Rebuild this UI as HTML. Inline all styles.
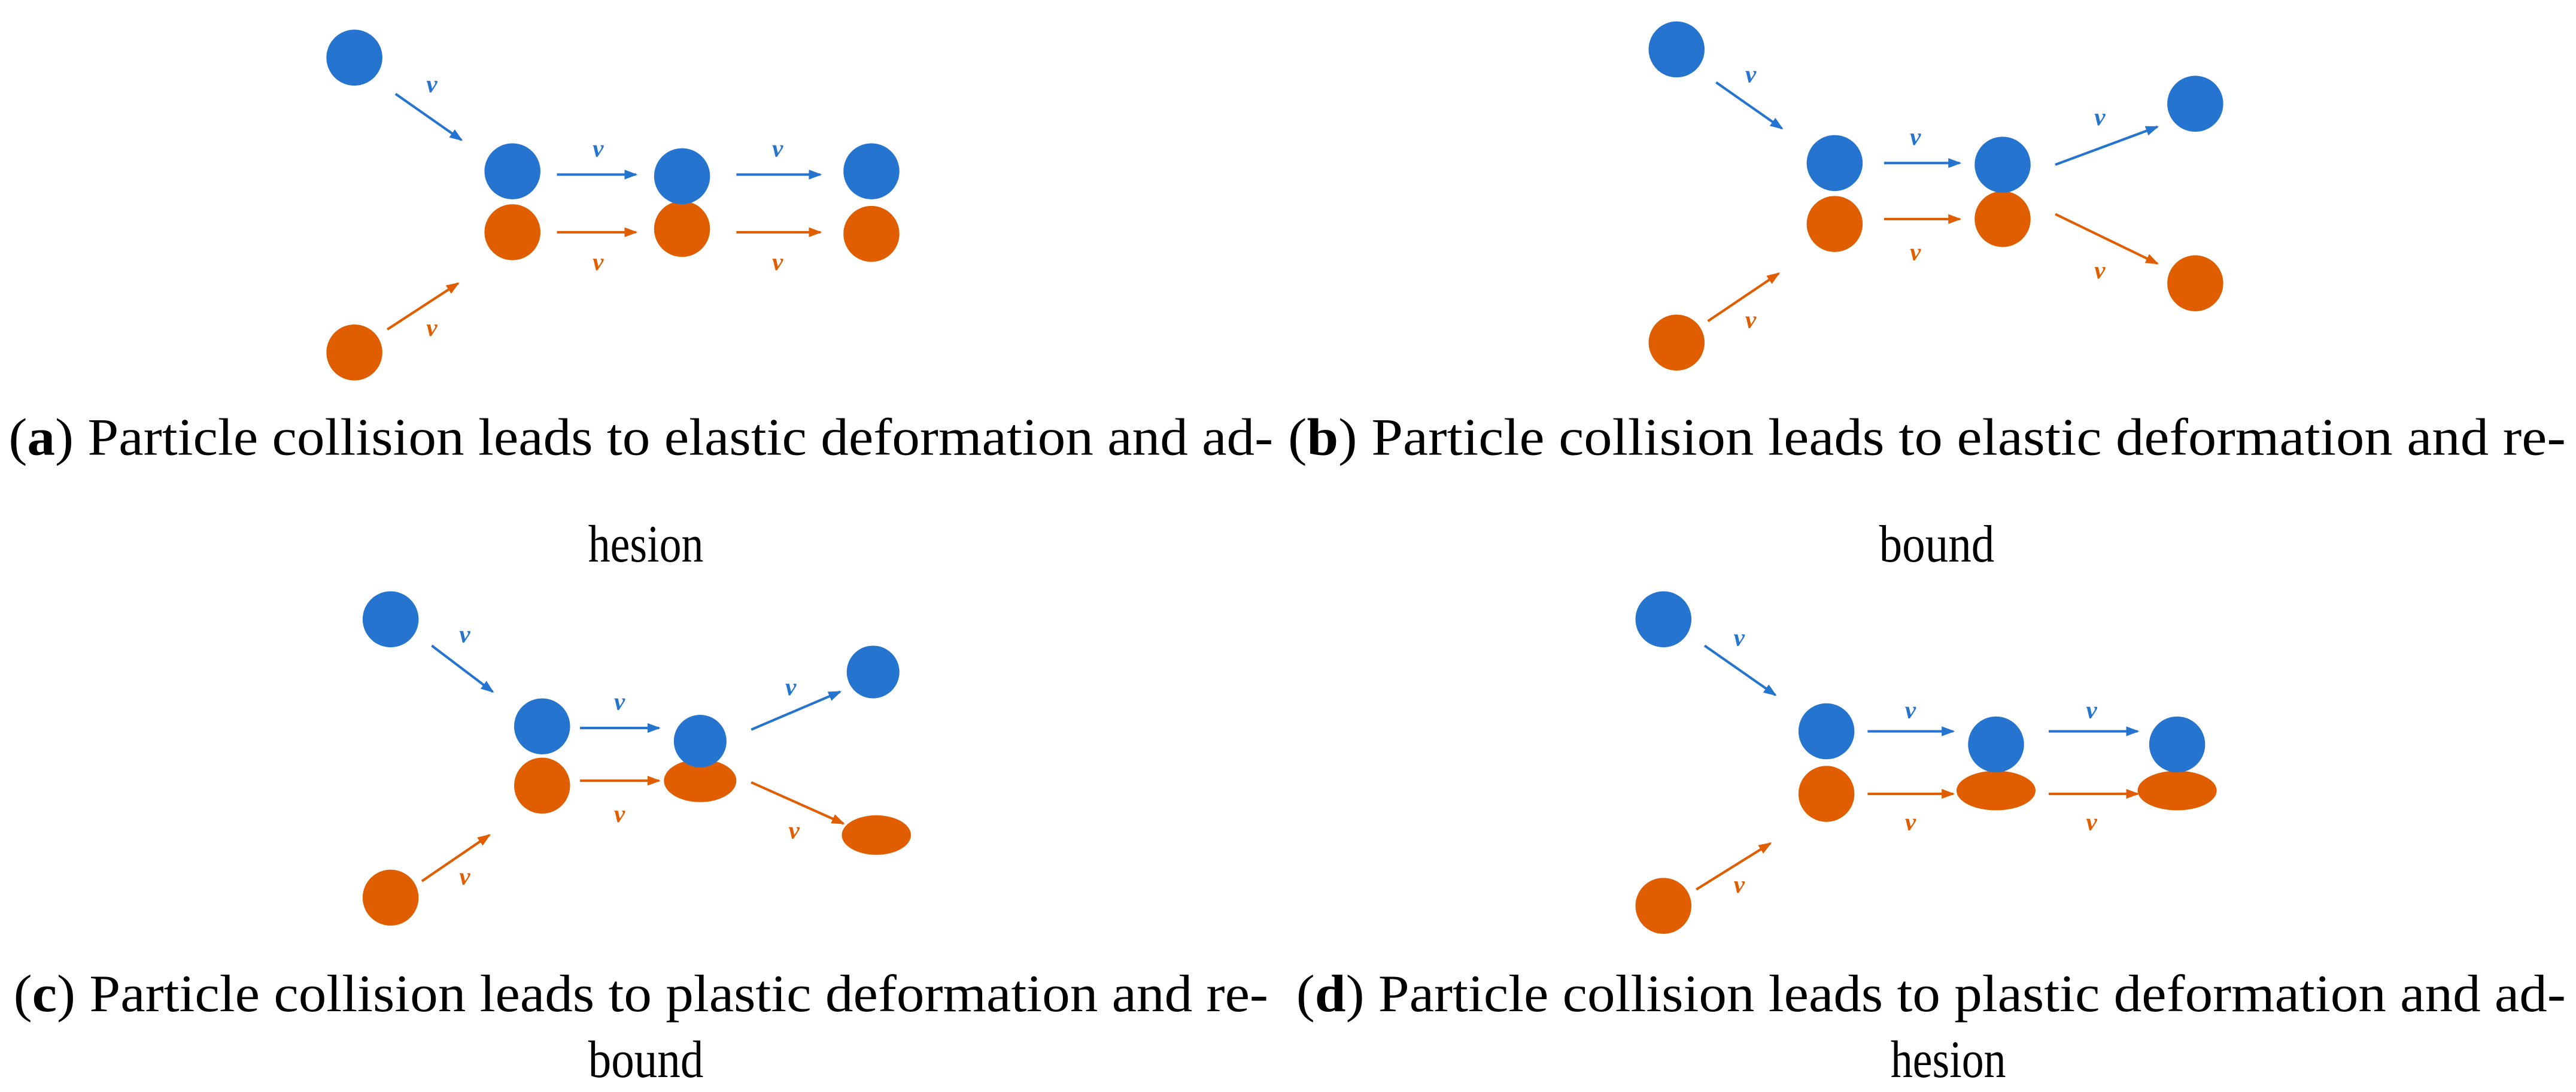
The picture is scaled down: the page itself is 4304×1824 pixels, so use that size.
<!DOCTYPE html>
<html><head><meta charset="utf-8"><style>
html,body{margin:0;padding:0;background:#fff;}
svg{display:block;}
text{font-family:"Liberation Serif",serif;}
.cap{font-size:32px;fill:#000;}
.v{font-size:15px;font-style:italic;font-weight:bold;}
</style></head><body>
<svg width="4304" height="1824" viewBox="0 0 1564 663" xmlns="http://www.w3.org/2000/svg">
<defs>
<marker id="ab" markerWidth="8" markerHeight="8" refX="7" refY="4" orient="auto" markerUnits="userSpaceOnUse"><path d="M0,1 L8,4 L0,7 Z" fill="#2574CF"/></marker>
<marker id="ao" markerWidth="8" markerHeight="8" refX="7" refY="4" orient="auto" markerUnits="userSpaceOnUse"><path d="M0,1 L8,4 L0,7 Z" fill="#E05E00"/></marker>
</defs>
<g stroke-width="1.5" fill="none">
<line x1="240" y1="57" x2="280" y2="85" stroke="#2574CF" marker-end="url(#ab)"/>
<line x1="338" y1="106" x2="386" y2="106" stroke="#2574CF" marker-end="url(#ab)"/>
<line x1="447" y1="106" x2="498" y2="106" stroke="#2574CF" marker-end="url(#ab)"/>
<line x1="338" y1="141" x2="386" y2="141" stroke="#E05E00" marker-end="url(#ao)"/>
<line x1="447" y1="141" x2="498" y2="141" stroke="#E05E00" marker-end="url(#ao)"/>
<line x1="235" y1="200" x2="278" y2="172" stroke="#E05E00" marker-end="url(#ao)"/>
<line x1="1042" y1="50" x2="1082" y2="78" stroke="#2574CF" marker-end="url(#ab)"/>
<line x1="1144" y1="99" x2="1190" y2="99" stroke="#2574CF" marker-end="url(#ab)"/>
<line x1="1248" y1="100" x2="1310" y2="77" stroke="#2574CF" marker-end="url(#ab)"/>
<line x1="1144" y1="133" x2="1190" y2="133" stroke="#E05E00" marker-end="url(#ao)"/>
<line x1="1248" y1="130" x2="1310" y2="160" stroke="#E05E00" marker-end="url(#ao)"/>
<line x1="1037" y1="195" x2="1080" y2="166" stroke="#E05E00" marker-end="url(#ao)"/>
<line x1="262" y1="392" x2="299" y2="420" stroke="#2574CF" marker-end="url(#ab)"/>
<line x1="352" y1="442" x2="400" y2="442" stroke="#2574CF" marker-end="url(#ab)"/>
<line x1="456" y1="443" x2="510" y2="420" stroke="#2574CF" marker-end="url(#ab)"/>
<line x1="352" y1="474" x2="400" y2="474" stroke="#E05E00" marker-end="url(#ao)"/>
<line x1="456" y1="475" x2="512" y2="500" stroke="#E05E00" marker-end="url(#ao)"/>
<line x1="256" y1="535" x2="297" y2="507" stroke="#E05E00" marker-end="url(#ao)"/>
<line x1="1035" y1="392" x2="1078" y2="422" stroke="#2574CF" marker-end="url(#ab)"/>
<line x1="1134" y1="444" x2="1186" y2="444" stroke="#2574CF" marker-end="url(#ab)"/>
<line x1="1244" y1="444" x2="1298" y2="444" stroke="#2574CF" marker-end="url(#ab)"/>
<line x1="1134" y1="482" x2="1186" y2="482" stroke="#E05E00" marker-end="url(#ao)"/>
<line x1="1244" y1="482" x2="1298" y2="482" stroke="#E05E00" marker-end="url(#ao)"/>
<line x1="1030" y1="540" x2="1075" y2="512" stroke="#E05E00" marker-end="url(#ao)"/>
</g>
<g fill="#E05E00">
<circle cx="311" cy="141" r="17"/><circle cx="414" cy="139" r="17"/><circle cx="529" cy="142" r="17"/><circle cx="215" cy="214" r="17"/>
<circle cx="1114" cy="136" r="17"/><circle cx="1216" cy="133" r="17"/><circle cx="1333" cy="172" r="17"/><circle cx="1018" cy="208" r="17"/>
<circle cx="329" cy="477" r="17"/><ellipse cx="425" cy="474" rx="22" ry="13"/><ellipse cx="532" cy="507" rx="21" ry="12"/><circle cx="237" cy="545" r="17"/>
<circle cx="1109" cy="482" r="17"/><ellipse cx="1212" cy="480" rx="24" ry="12"/><ellipse cx="1322" cy="480" rx="24" ry="12"/><circle cx="1010" cy="550" r="17"/>
</g>
<g fill="#2574CF">
<circle cx="215" cy="35" r="17"/><circle cx="311" cy="104" r="17"/><circle cx="414" cy="107" r="17"/><circle cx="529" cy="104" r="17"/>
<circle cx="1018" cy="30" r="17"/><circle cx="1114" cy="99" r="17"/><circle cx="1216" cy="100" r="17"/><circle cx="1333" cy="63" r="17"/>
<circle cx="237" cy="376" r="17"/><circle cx="329" cy="441" r="17"/><circle cx="425" cy="450" r="16"/><circle cx="530" cy="408" r="16"/>
<circle cx="1010" cy="376" r="17"/><circle cx="1109" cy="444" r="17"/><circle cx="1212" cy="452" r="17"/><circle cx="1322" cy="452" r="17"/>
</g>
<g class="v" fill="#2574CF" text-anchor="middle">
<text x="262" y="56">v</text><text x="363" y="95">v</text><text x="472" y="95">v</text>
<text x="1063" y="50">v</text><text x="1163" y="88">v</text><text x="1275" y="76">v</text>
<text x="282" y="390">v</text><text x="376" y="431">v</text><text x="480" y="422">v</text>
<text x="1056" y="392">v</text><text x="1160" y="436">v</text><text x="1270" y="436">v</text>
</g>
<g class="v" fill="#E05E00" text-anchor="middle">
<text x="363" y="164">v</text><text x="472" y="164">v</text><text x="262" y="204">v</text>
<text x="1163" y="158">v</text><text x="1275" y="169">v</text><text x="1063" y="199">v</text>
<text x="376" y="499">v</text><text x="482" y="509">v</text><text x="282" y="537">v</text>
<text x="1160" y="504">v</text><text x="1270" y="504">v</text><text x="1056" y="542">v</text>
</g>
<g class="cap">
<text x="5" y="276" textLength="768" lengthAdjust="spacingAndGlyphs">(<tspan font-weight="bold">a</tspan>) Particle collision leads to elastic deformation and ad-</text>
<text x="357" y="341" textLength="70" lengthAdjust="spacingAndGlyphs">hesion</text>
<text x="782" y="276" textLength="776" lengthAdjust="spacingAndGlyphs">(<tspan font-weight="bold">b</tspan>) Particle collision leads to elastic deformation and re-</text>
<text x="1141" y="341" textLength="70" lengthAdjust="spacingAndGlyphs">bound</text>
<text x="8" y="614" textLength="762" lengthAdjust="spacingAndGlyphs">(<tspan font-weight="bold">c</tspan>) Particle collision leads to plastic deformation and re-</text>
<text x="357" y="654" textLength="70" lengthAdjust="spacingAndGlyphs">bound</text>
<text x="787" y="614" textLength="771" lengthAdjust="spacingAndGlyphs">(<tspan font-weight="bold">d</tspan>) Particle collision leads to plastic deformation and ad-</text>
<text x="1148" y="654" textLength="70" lengthAdjust="spacingAndGlyphs">hesion</text>
</g>
</svg>
</body></html>
